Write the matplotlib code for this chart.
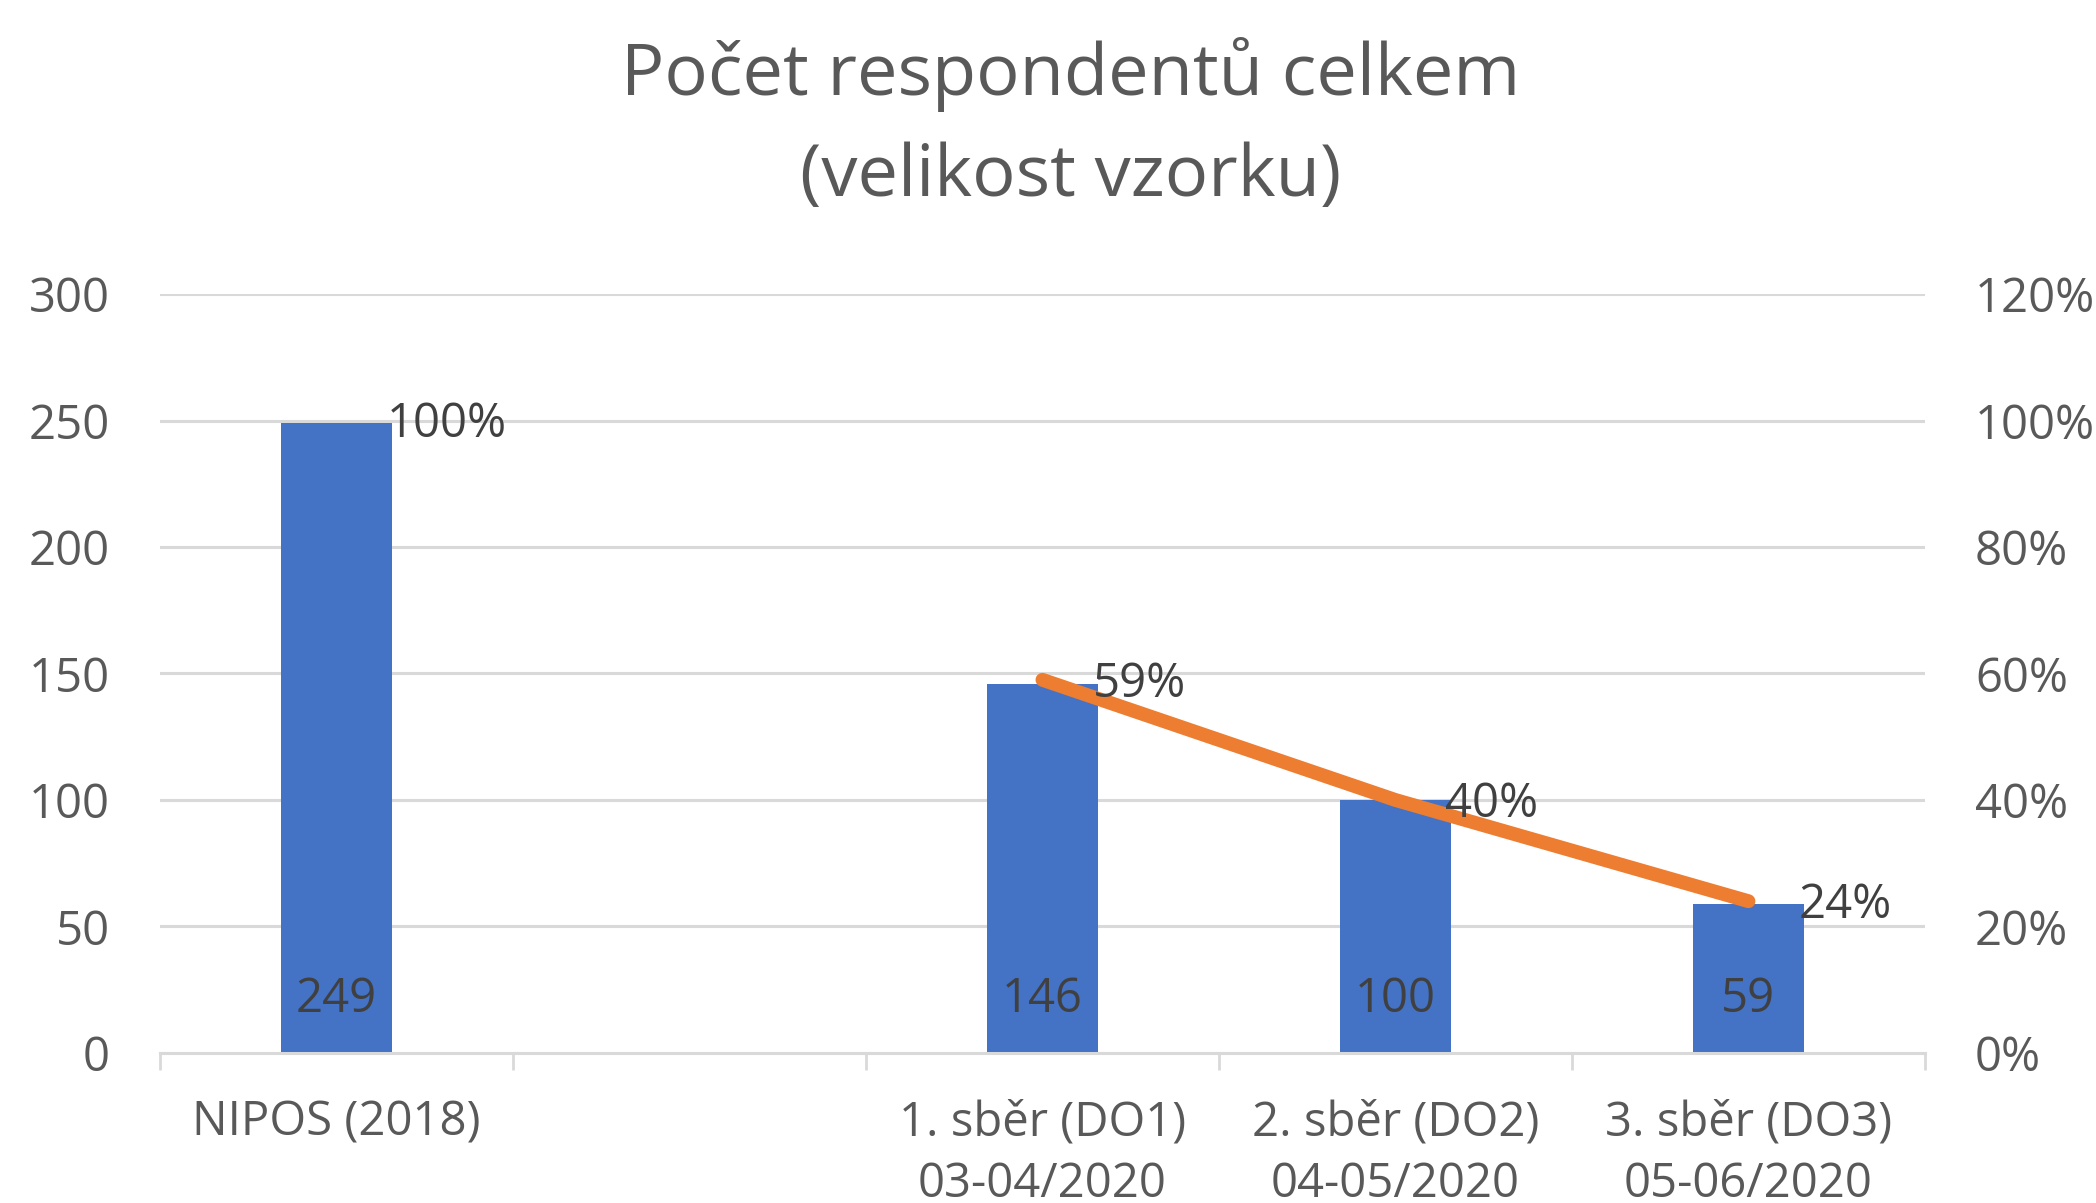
import numpy as np
import matplotlib
matplotlib.use("Agg")
import matplotlib.pyplot as plt
from matplotlib.ticker import PercentFormatter, FixedLocator

plt.rcParams['font.family'] = ['Open Sans', 'DejaVu Sans']

# data
categories = ["NIPOS (2018)", "",
              "1. sběr (DO1)\n03-04/2020",
              "2. sběr (DO2)\n04-05/2020",
              "3. sběr (DO3)\n05-06/2020"]
respondents = np.array([249, np.nan, 146, 100, 59])
share = np.array([1.00, np.nan, 0.59, 0.40, 0.24])

bar_color = "#4472C4"
line_color = "#ED7D31"
grid_color = "#D9D9D9"
tick_color = "#595959"
label_color = "#404040"

fig = plt.figure(figsize=(20.96, 12.03), dpi=100)
ax = fig.add_axes([0.0763, 0.1247, 0.8421, 0.6309])
ax2 = ax.twinx()

x = np.arange(len(categories))
has_bar = ~np.isnan(respondents)
ax.bar(x[has_bar], respondents[has_bar], width=0.315, color=bar_color, zorder=2)

# counts sit at the base of each bar
for xi, v in zip(x[has_bar], respondents[has_bar]):
    ax.annotate(f"{v:.0f}", xy=(xi, 0), xytext=(0, 39), textcoords="offset points",
                ha="center", va="center", fontsize=34, color=label_color, zorder=3)

ax2.plot(x, share, color=line_color, linewidth=10, solid_capstyle="round", zorder=4)
for xi, v in zip(x, share):
    if np.isnan(v):
        continue
    ax2.annotate(f"{v:.0%}", xy=(xi, v), xytext=(36, -3), textcoords="offset points",
                 ha="left", va="center", fontsize=34, color=label_color, zorder=5)

ax.set_xlim(-0.5, len(categories) - 0.5)
ax.set_ylim(0, 300)
ax.set_yticks(np.arange(0, 301, 50))
ax2.set_ylim(0, 1.2)
ax2.set_yticks(np.arange(0, 1.21, 0.2))
ax2.yaxis.set_major_formatter(PercentFormatter(1.0, decimals=0))

ax.set_xticks(x)
ax.set_xticklabels(categories, linespacing=1.4)
ax.xaxis.set_minor_locator(FixedLocator(np.arange(-0.5, len(categories), 1.0)))
ax.tick_params(axis="x", which="major", length=0, pad=33, labelsize=34, labelcolor=tick_color)
ax.tick_params(axis="x", which="minor", length=12, width=2, color=grid_color, direction="out")
ax.tick_params(axis="y", length=0, pad=36, labelsize=34, labelcolor=tick_color)
ax2.tick_params(axis="y", length=0, pad=36, labelsize=34, labelcolor=tick_color)

ax.yaxis.grid(True, color=grid_color, linewidth=2.2, zorder=0)
ax.set_axisbelow(True)
for a in (ax, ax2):
    for side in ("top", "left", "right", "bottom"):
        a.spines[side].set_visible(False)
ax.spines["bottom"].set_visible(True)
ax.spines["bottom"].set_color(grid_color)
ax.spines["bottom"].set_linewidth(2.2)

fig.text(0.511, 0.896, "Počet respondentů celkem\n(velikost vzorku)", ha="center", va="center",
         fontsize=52, color=tick_color, linespacing=1.55)

fig.savefig("out.png", dpi=100, facecolor="white")
